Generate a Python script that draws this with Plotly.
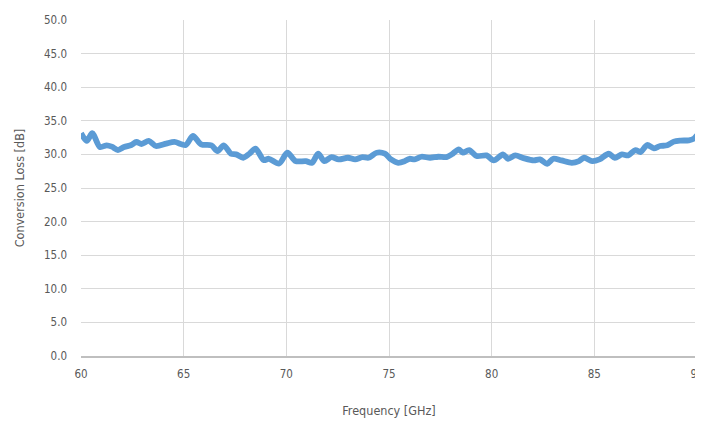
import plotly.graph_objects as go

freq_ghz = [60.0, 60.28, 60.55, 60.92, 61.25, 61.5, 61.8, 62.1, 62.45, 62.7, 62.95, 63.3, 63.65,
            64.15, 64.55, 65.1, 65.45, 65.85, 66.35, 66.65, 66.95, 67.3, 67.55, 67.9, 68.2, 68.5,
            68.9, 69.15, 69.65, 70.05, 70.45, 70.95, 71.25, 71.55, 71.85, 72.2, 72.55, 73.0, 73.35,
            73.7, 74.0, 74.4, 74.8, 75.1, 75.45, 75.77, 76.0, 76.25, 76.58, 77.0, 77.4, 77.8, 78.05,
            78.4, 78.6, 78.9, 79.27, 79.75, 80.1, 80.55, 80.8, 81.15, 81.55, 82.05, 82.35, 82.7,
            83.0, 83.4, 83.9, 84.25, 84.5, 84.9, 85.25, 85.7, 86.0, 86.35, 86.65, 87.0, 87.25,
            87.57, 87.9, 88.2, 88.55, 88.87, 89.2, 89.6, 89.85, 90.0]
conversion_loss_db = [33.15, 32.0, 33.15, 31.1, 31.35, 31.15, 30.65, 31.1, 31.4, 31.85, 31.55, 32.0,
                      31.25, 31.6, 31.85, 31.4, 32.75, 31.5, 31.35, 30.5, 31.35, 30.1, 30.0, 29.5,
                      30.1, 30.85, 29.15, 29.35, 28.65, 30.25, 29.0, 29.0, 28.75, 30.1, 29.0, 29.6,
                      29.25, 29.5, 29.25, 29.6, 29.5, 30.25, 30.1, 29.25, 28.75, 29.0, 29.35, 29.25,
                      29.65, 29.5, 29.65, 29.6, 30.0, 30.75, 30.25, 30.65, 29.75, 29.85, 29.1, 30.0,
                      29.35, 29.85, 29.45, 29.1, 29.25, 28.6, 29.35, 29.1, 28.75, 29.0, 29.5, 29.0,
                      29.25, 30.1, 29.5, 30.0, 29.85, 30.65, 30.35, 31.4, 30.9, 31.25, 31.35, 31.9,
                      32.05, 32.1, 32.35, 32.85]

x_ticks = [60, 65, 70, 75, 80, 85, 90]
y_ticks = [0, 5, 10, 15, 20, 25, 30, 35, 40, 45, 50]

font_family = "DejaVu Sans Condensed, Liberation Sans Narrow, sans-serif"
text_color = "#595959"

fig = go.Figure()
fig.add_trace(go.Scatter(
    x=freq_ghz, y=conversion_loss_db, mode="lines",
    line=dict(color="#5B9BD5", width=5.8, shape="spline", smoothing=0.8),
    showlegend=False, hoverinfo="skip", cliponaxis=False))

fig.update_layout(
    width=695, height=415,
    margin=dict(l=73, r=6, t=12, b=67),
    paper_bgcolor="white", plot_bgcolor="white",
    font=dict(family=font_family, color=text_color, size=11.5),
    xaxis=dict(range=[60, 90], tickvals=x_ticks, ticktext=[str(v) for v in x_ticks],
               showgrid=True, gridcolor="#D9D9D9", gridwidth=1,
               showline=True, linecolor="#BFBFBF", linewidth=1.5,
               zeroline=False, ticks="", ticklabelstandoff=6, ticklabeloverflow="allow",
               automargin=False,
               title=dict(text="Frequency [GHz]", font=dict(size=12.5, color=text_color), standoff=27)),
    yaxis=dict(range=[0, 50], tickvals=y_ticks, ticktext=[f"{v:.1f}" for v in y_ticks],
               showgrid=True, gridcolor="#D9D9D9", gridwidth=1,
               showline=False, zeroline=False, ticks="", ticklabelstandoff=13,
               automargin=False,
               title=dict(text="Conversion Loss [dB]", font=dict(size=12.5, color=text_color), standoff=16)),
)

fig.write_html("out.html")
